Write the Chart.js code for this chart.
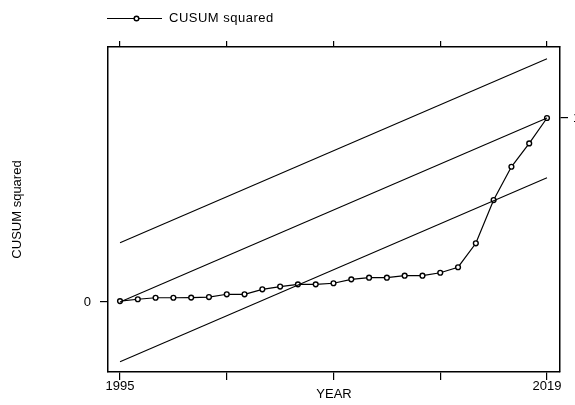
<!DOCTYPE html>
<html>
<head>
<meta charset="utf-8">
<script src="https://cdn.jsdelivr.net/npm/chart.js@4.4.1/dist/chart.umd.min.js"></script>
<style>
  html, body { margin: 0; padding: 0; background: #fff; }
  #wrap { width: 575px; height: 405px; }
</style>
</head>
<body>
<div id="wrap"><canvas id="c" width="575" height="405"></canvas></div>
<script>
// ---- data ----
const years = [1995,1996,1997,1998,1999,2000,2001,2002,2003,2004,2005,2006,2007,
               2008,2009,2010,2011,2012,2013,2014,2015,2016,2017,2018,2019];
const cusumSquared = [0.005,0.015,0.023,0.023,0.024,0.027,0.042,0.042,0.069,0.084,0.096,0.096,0.102,
                      0.123,0.132,0.132,0.143,0.143,0.159,0.189,0.319,0.554,0.735,0.862,1.0];
const boundYears = [1995, 2019];
const upperBound = [0.322, 1.322];
const middleLine = [0.0, 1.0];
const lowerBound = [-0.325, 0.675];
const xTickValues = [1995, 2001, 2007, 2013, 2019];
const xTickLabels = {1995: '1995', 2019: '2019'};
const seriesLabel = 'CUSUM squared';
const xTitle = 'YEAR';
const yTitle = 'CUSUM squared';

const FONT = '"Liberation Sans", Arial, sans-serif';
const INK = '#000';

const toXY = (xs, ys) => xs.map((x, i) => ({x: x, y: ys[i]}));

const xMin = 1994.325, xMax = 2019.731;
const yMin = -0.3804, yMax = 1.3859;

const legendPlugin = {
  id: 'customLegend',
  afterDraw(chart) {
    const ctx = chart.ctx;
    ctx.save();
    ctx.strokeStyle = INK;
    ctx.lineWidth = 1.2;
    ctx.beginPath();
    ctx.moveTo(107, 18.5);
    ctx.lineTo(162, 18.5);
    ctx.stroke();
    ctx.beginPath();
    ctx.arc(136.5, 18.5, 2.3, 0, Math.PI * 2);
    ctx.fillStyle = '#fff';
    ctx.fill();
    ctx.lineWidth = 1.5;
    ctx.stroke();
    ctx.fillStyle = INK;
    ctx.font = '13px ' + FONT;
    ctx.textBaseline = 'middle';
    ctx.textAlign = 'left';
    try { ctx.letterSpacing = '0.5px'; } catch (e) {}
    ctx.fillText(seriesLabel, 169, 18);
    ctx.restore();
  }
};

const lineDs = (xs, ys) => ({
  data: toXY(xs, ys),
  borderColor: INK,
  borderWidth: 1.1,
  pointRadius: 0,
  fill: false,
  tension: 0,
  xAxisID: 'x',
  yAxisID: 'y'
});

new Chart(document.getElementById('c'), {
  type: 'line',
  data: {
    datasets: [
      lineDs(boundYears, upperBound),
      lineDs(boundYears, middleLine),
      lineDs(boundYears, lowerBound),
      {
        label: seriesLabel,
        data: toXY(years, cusumSquared),
        borderColor: INK,
        borderWidth: 1.2,
        pointRadius: 2.4,
        pointBorderWidth: 1.4,
        pointBackgroundColor: '#fff',
        pointBorderColor: INK,
        fill: false,
        tension: 0,
        xAxisID: 'x',
        yAxisID: 'y'
      }
    ]
  },
  options: {
    responsive: false,
    animation: false,
    layout: { padding: 0 },
    plugins: { legend: { display: false }, tooltip: { enabled: false } },
    scales: {
      x: {
        type: 'linear', position: 'bottom', min: xMin, max: xMax,
        afterBuildTicks: s => { s.ticks = xTickValues.map(v => ({value: v})); },
        afterFit: s => { s.height = 33; },
        grid: { drawOnChartArea: false, drawTicks: true, tickLength: 8, color: INK, lineWidth: 1.2 },
        border: { display: true, color: INK, width: 1.5 },
        ticks: {
          padding: 0, color: INK, maxRotation: 0, autoSkip: false,
          font: { family: FONT, size: 13, lineHeight: 1 },
          callback: v => xTickLabels[v] || ''
        },
        title: { display: true, text: xTitle, color: INK, font: { family: FONT, size: 13 }, padding: { top: 0, bottom: 3 } }
      },
      x2: {
        type: 'linear', position: 'top', min: xMin, max: xMax,
        afterBuildTicks: s => { s.ticks = xTickValues.map(v => ({value: v})); },
        afterFit: s => { s.height = 47; },
        grid: { drawOnChartArea: false, drawTicks: true, tickLength: 6, color: INK, lineWidth: 1.2 },
        border: { display: true, color: INK, width: 1.5 },
        ticks: { display: false }
      },
      y: {
        type: 'linear', position: 'left', min: yMin, max: yMax,
        afterBuildTicks: s => { s.ticks = [{value: 0}]; },
        afterFit: s => { s.width = 108; },
        grid: { drawOnChartArea: false, drawTicks: true, tickLength: 8, color: INK, lineWidth: 1.2 },
        border: { display: true, color: INK, width: 1.5 },
        ticks: { padding: 9, color: INK, font: { family: FONT, size: 13 }, callback: v => String(v) },
        title: { display: true, text: yTitle, color: INK, font: { family: FONT, size: 13 }, padding: { top: 10, bottom: 0 } }
      },
      y2: {
        type: 'linear', position: 'right', min: yMin, max: yMax,
        afterBuildTicks: s => { s.ticks = [{value: 1}]; },
        afterFit: s => { s.width = 15; },
        grid: { drawOnChartArea: false, drawTicks: true, tickLength: 8, color: INK, lineWidth: 1.2 },
        border: { display: true, color: INK, width: 1.5 },
        ticks: { padding: 5, color: INK, font: { family: FONT, size: 13 }, callback: v => String(v) }
      }
    }
  },
  plugins: [legendPlugin]
});
</script>
</body>
</html>
